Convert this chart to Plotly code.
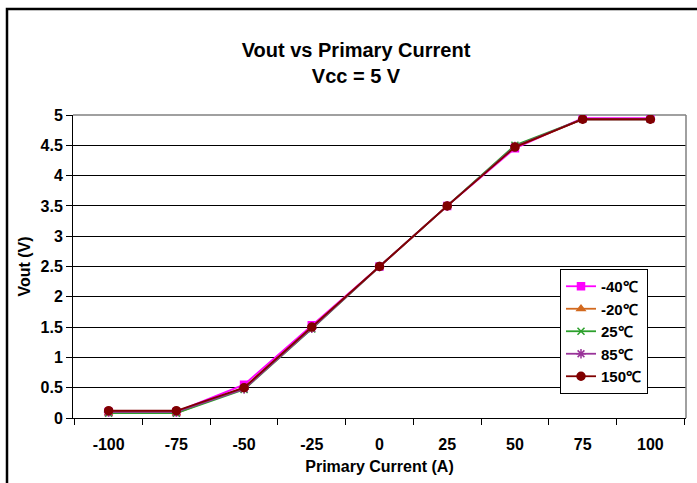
import plotly.graph_objects as go

currents = ["-100", "-75", "-50", "-25", "0", "25", "50", "75", "100"]
v_m40 = [0.10, 0.10, 0.55, 1.53, 2.50, 3.50, 4.45, 4.95, 4.95]
v_m20 = [0.08, 0.08, 0.50, 1.50, 2.50, 3.50, 4.47, 4.93, 4.93]
v_25 = [0.08, 0.08, 0.47, 1.47, 2.50, 3.50, 4.50, 4.93, 4.93]
v_85 = [0.10, 0.10, 0.48, 1.48, 2.50, 3.50, 4.48, 4.93, 4.93]
v_150 = [0.12, 0.12, 0.50, 1.50, 2.50, 3.50, 4.47, 4.93, 4.93]

names = ["-40℃", "-20℃", "25℃", "85℃", "150℃"]
series = [v_m40, v_m20, v_25, v_85, v_150]
colors = ["#FF00FF", "#D2691E", "#2CA02C", "#993399", "#800000"]
symbols = ["square", "triangle-up", "x-thin-open", "asterisk-open", "circle"]
sizes = [7, 7, 7, 8, 8]

FONT = "Arial, Liberation Sans, sans-serif"

fig = go.Figure()
for n, s, c, sym, sz in zip(names, series, colors, symbols, sizes):
    fig.add_trace(go.Scatter(
        x=currents, y=s, name="<b>" + n + "</b>", mode="lines+markers",
        line=dict(color=c, width=1.8),
        marker=dict(symbol=sym, size=sz, color=c, line=dict(color=c, width=1.5)),
    ))

fig.update_layout(
    width=697, height=483,
    margin=dict(l=73, r=11, t=115, b=65),
    paper_bgcolor="white", plot_bgcolor="white",
    font=dict(family=FONT, size=16, color="black"),
    title=dict(text="<b>Vout vs Primary Current<br>Vcc = 5 V</b>",
               x=356 / 697, xref="container", xanchor="center",
               y=1 - 57 / 483, yref="container", yanchor="middle",
               font=dict(family=FONT, size=20, color="black")),
    showlegend=True,
    legend=dict(x=(560 - 73) / 613, y=(418 - 269) / 303, xanchor="left", yanchor="top",
                bgcolor="white", bordercolor="black", borderwidth=1,
                font=dict(family=FONT, size=15, color="black"),
                itemwidth=30, tracegroupgap=0),
    xaxis=dict(type="category", showgrid=False, showline=True, linecolor="black", linewidth=1,
               ticks="outside", tickson="boundaries", ticklen=6, tickcolor="black",
               ticklabelstandoff=12,
               tickfont=dict(family=FONT, size=16, color="black"),
               tickprefix="<b>", ticksuffix="</b>",
               title=dict(text="<b>Primary Current (A)</b>", standoff=8,
                          font=dict(family=FONT, size=16, color="black")),
               zeroline=False),
    yaxis=dict(range=[0, 5], dtick=0.5, tick0=0, showgrid=True, gridcolor="black", gridwidth=1,
               showline=True, linecolor="black", linewidth=1,
               ticks="outside", ticklen=6, tickcolor="black",
               tickfont=dict(family=FONT, size=16, color="black"),
               tickprefix="<b>", ticksuffix="</b>",
               title=dict(text="<b>Vout (V)</b>", standoff=5,
                          font=dict(family=FONT, size=16, color="black")),
               zeroline=False),
    shapes=[
        dict(type="line", xref="paper", yref="paper", x0=1, x1=1, y0=0, y1=1,
             line=dict(color="#808080", width=1.5), layer="above"),
        dict(type="line", xref="paper", yref="paper", x0=0, x1=1, y0=1, y1=1,
             line=dict(color="#808080", width=1.5), layer="below"),
        dict(type="rect", xref="paper", yref="paper",
             x0=(7 - 73) / 613, x1=1.2, y0=-0.5, y1=1 + (115 - 9) / 303,
             line=dict(color="black", width=2.5), layer="above"),
    ],
)

fig.write_html("out.html", config={"displayModeBar": False},
               post_script="document.body.style.margin='0';document.body.style.overflow='hidden';")
